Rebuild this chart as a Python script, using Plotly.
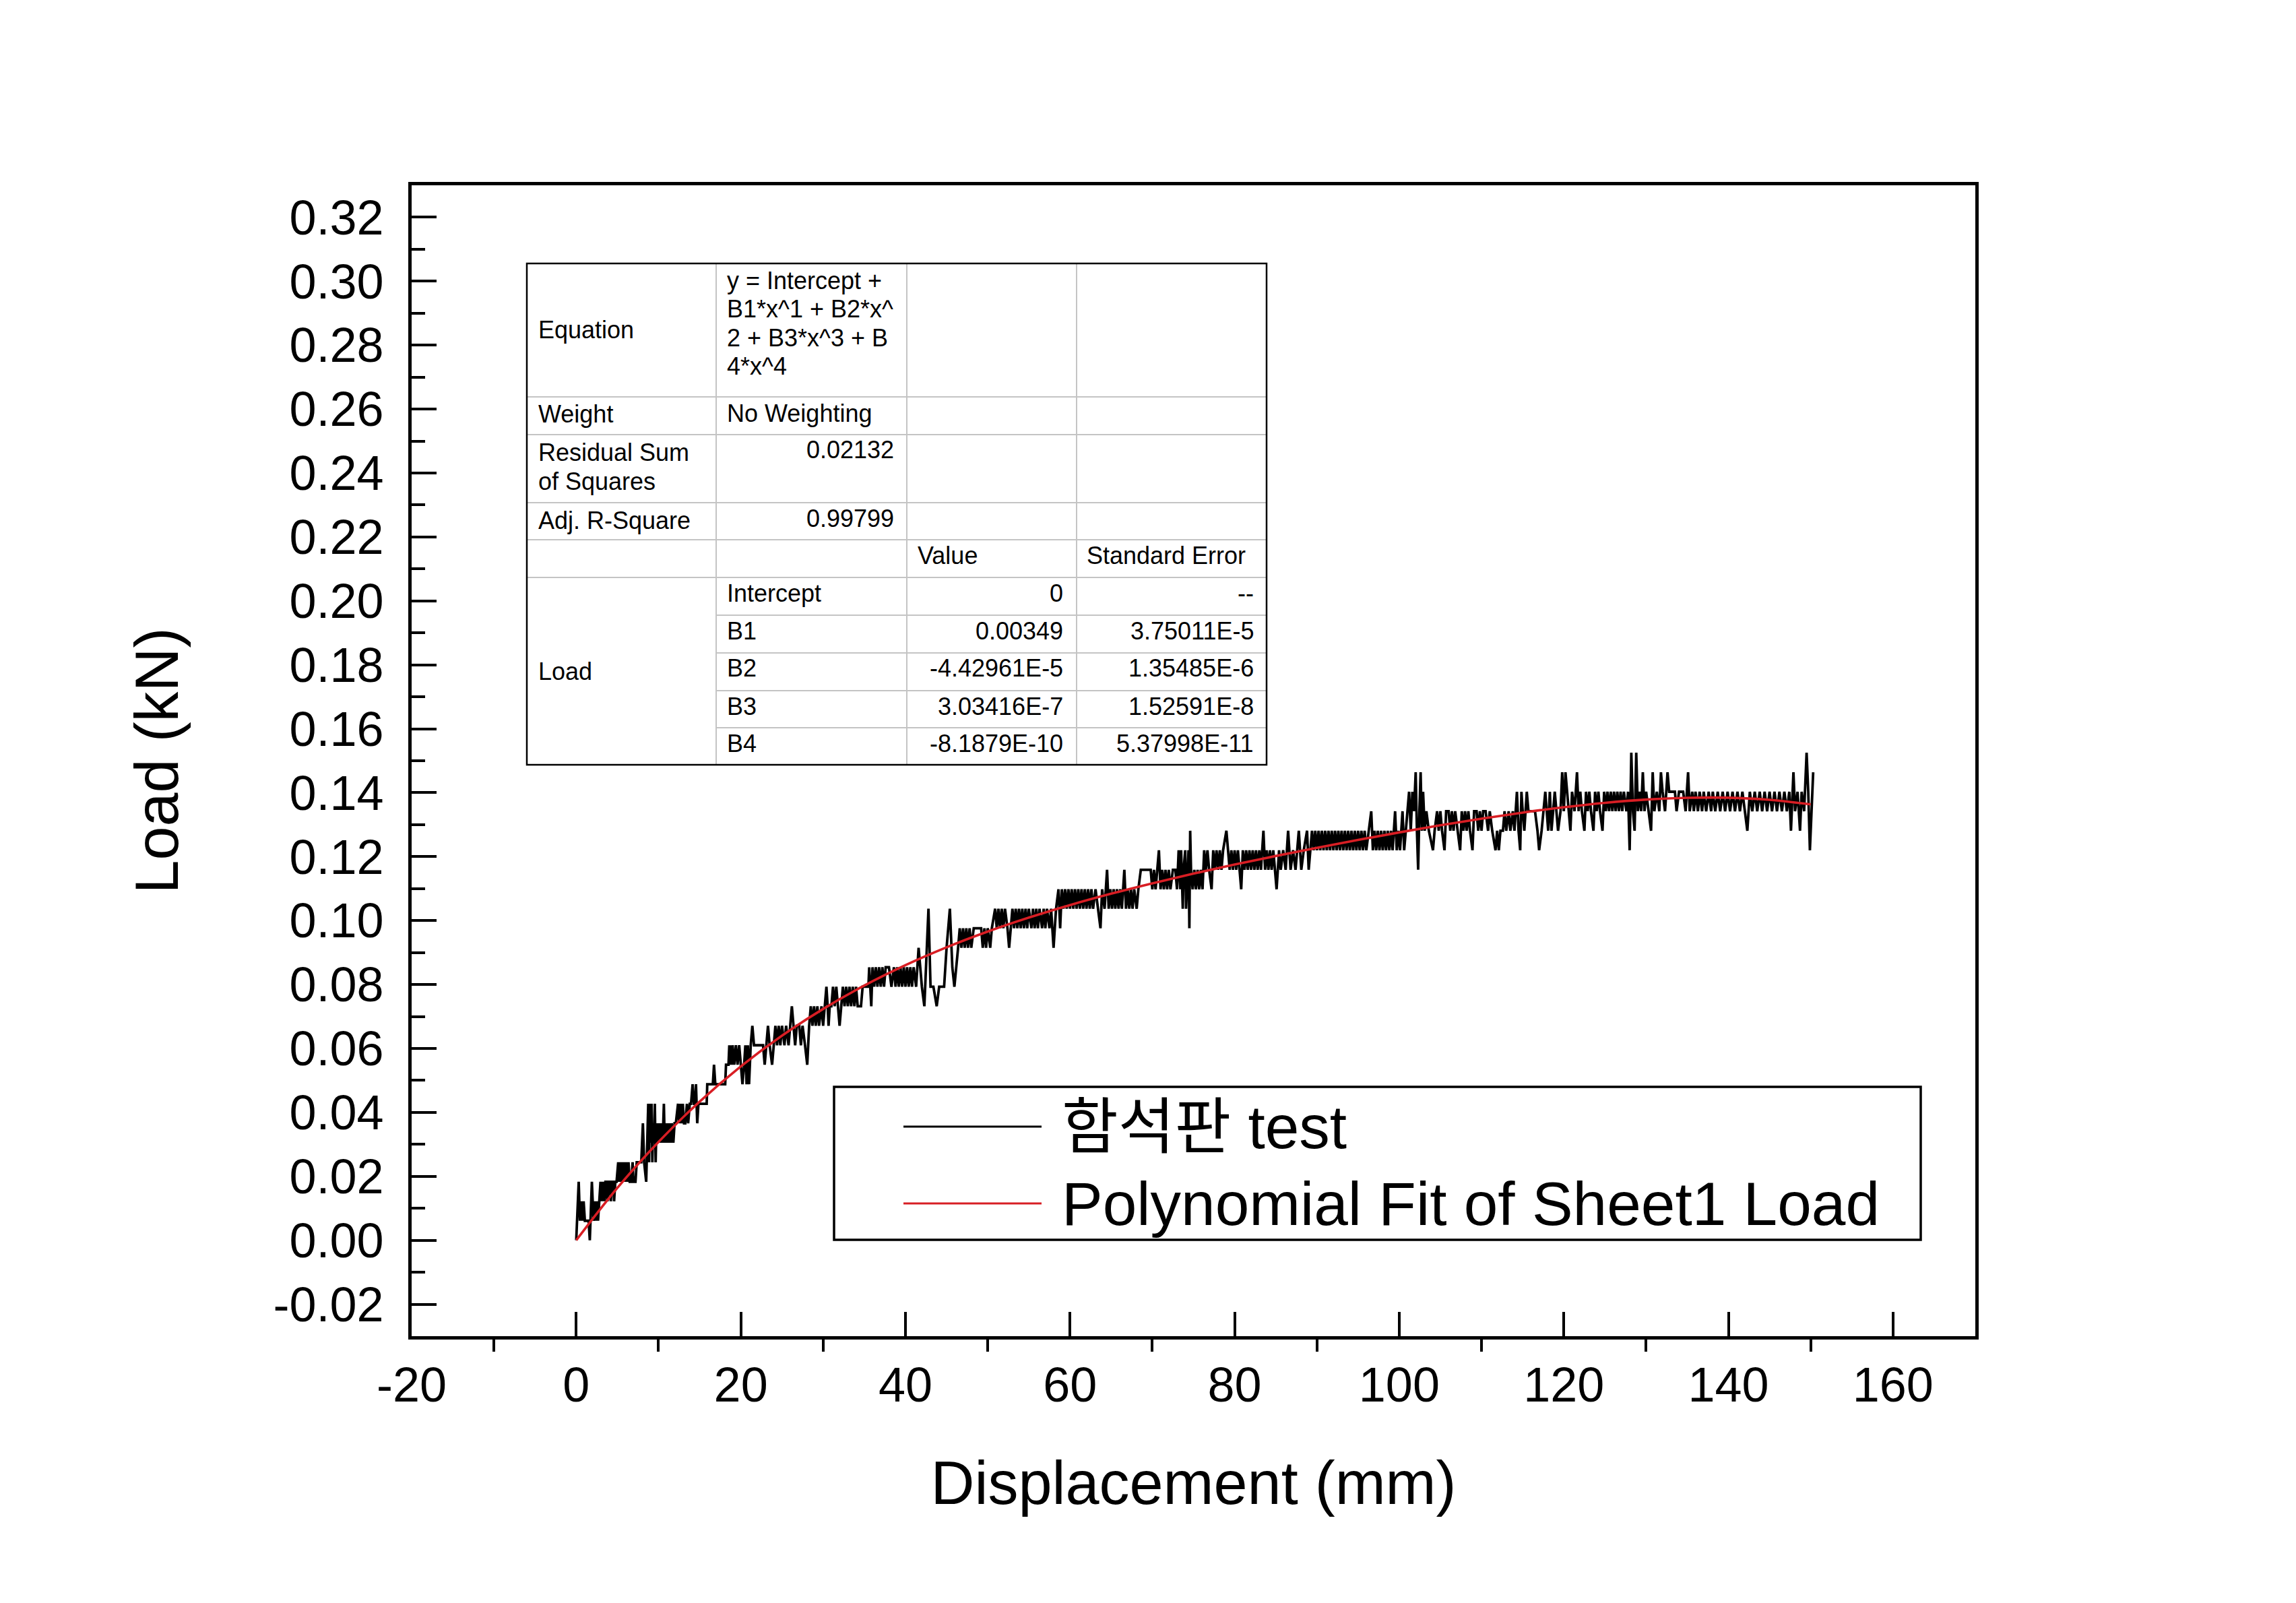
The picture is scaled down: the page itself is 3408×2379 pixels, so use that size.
import plotly.graph_objects as go

# ---------------- data ----------------
# measured test curve (displacement mm, load kN) - vertices read from the plot
test_seg_a = [(0.0,0.0),(0.3,0.0183),(0.45,0.0061),(0.6,0.0122),(0.75,0.0061),(0.9,0.0122),(1.05,0.0061),(1.5,0.0061),(1.65,0.0),(1.9,0.0183),(2.1,0.0061),(2.3,0.0122),(2.4,0.0061),(2.55,0.0122),(2.65,0.0061),(2.8,0.0122),(2.95,0.0183),(3.05,0.0122),(3.15,0.0183),(3.25,0.0122),(3.35,0.0183),(3.45,0.0122),(3.55,0.0183),(3.7,0.0183),(3.8,0.0122),(3.95,0.0183),(4.1,0.0183),(4.2,0.0122),(4.35,0.0183),(4.5,0.0183),(4.6,0.0122),(4.75,0.0183),(4.9,0.0183),(5.1,0.0244),(5.2,0.0183),(5.35,0.0244),(5.45,0.0183),(5.6,0.0244),(5.7,0.0183),(5.85,0.0244),(5.95,0.0183),(6.1,0.0244),(6.2,0.0183),(6.35,0.0244),(6.5,0.0183),(6.7,0.0183),(6.85,0.0244),(6.95,0.0183),(7.2,0.0183),(7.35,0.0244),(7.9,0.0244),(8.1,0.0366),(8.25,0.0244),(8.5,0.0183),(8.65,0.0305),(8.75,0.0427),(8.85,0.0244),(8.95,0.0427),(9.05,0.0305),(9.15,0.0427),(9.25,0.0244),(9.35,0.0366),(9.45,0.0305),(9.55,0.0427),(9.65,0.0244),(9.75,0.0366),(9.85,0.0305),(9.95,0.0366),(10.05,0.0305),(10.15,0.0366),(10.25,0.0305),(10.4,0.0366),(10.5,0.0305),(10.65,0.0427),(10.75,0.0305),(10.9,0.0366),(11.0,0.0305),(11.1,0.0366),(11.2,0.0305),(11.35,0.0366),(11.5,0.0305),(11.6,0.0366),(11.8,0.0305),(11.95,0.0366),(12.1,0.0366),(12.37,0.0427),(12.5,0.0366),(12.65,0.0427),(12.8,0.0366),(12.95,0.0427),(13.1,0.0366),(13.25,0.0366),(13.45,0.0427),(13.6,0.0366),(13.8,0.0427),(13.95,0.0427),(14.14,0.0488),(14.3,0.0427),(14.45,0.0427),(14.55,0.0488),(14.7,0.0366),(14.85,0.0427),(15.85,0.0427),(15.92,0.0488),(16.6,0.0488),(16.74,0.0549),(16.9,0.0488),(18.1,0.0488),(18.2,0.0549),(18.5,0.0549),(18.6,0.061),(18.7,0.0549),(18.8,0.061),(18.9,0.0549),(19.0,0.061),(19.2,0.0549),(19.4,0.061),(19.6,0.0549),(19.8,0.061),(20.0,0.0549),(20.2,0.0488),(20.4,0.0549),(20.55,0.061),(20.7,0.0488),(20.85,0.061),(21.0,0.0488),(21.2,0.061),(21.4,0.0671),(21.6,0.061),(22.7,0.061),(22.9,0.0549),(23.1,0.061),(23.3,0.0671),(23.5,0.061),(23.8,0.0549),(24.0,0.061),(24.2,0.0671),(24.4,0.061),(24.6,0.0671),(24.8,0.061),(25.0,0.0671),(25.3,0.061),(25.5,0.0671),(25.8,0.061),(26.0,0.0671),(26.2,0.0732),(26.4,0.0671),(26.6,0.061),(26.8,0.0671),(27.1,0.0671),(27.3,0.061),(27.5,0.0671),(27.8,0.061),(28.07,0.0549),(28.3,0.0671),(28.5,0.0732),(28.7,0.0671),(28.9,0.0732),(29.1,0.0671),(29.3,0.0732),(29.5,0.0671),(29.8,0.0732),(30.0,0.0671),(30.2,0.0732),(30.4,0.0793),(30.55,0.0732),(30.66,0.0671),(30.8,0.0732),(31.0,0.0732),(31.2,0.0793),(31.4,0.0732),(31.6,0.0793),(31.8,0.0732),(32.0,0.0671),(32.2,0.0732),(32.4,0.0793),(32.6,0.0732),(32.8,0.0793),(33.0,0.0732),(33.2,0.0793),(33.4,0.0732),(33.6,0.0793),(33.8,0.0732),(34.0,0.0793),(34.2,0.0732),(34.6,0.0732),(34.8,0.0793),(35.5,0.0793),(35.6,0.0854),(35.85,0.0732),(36.0,0.0854),(36.2,0.0793),(36.4,0.0854),(36.6,0.0793),(36.8,0.0854),(37.0,0.0793),(37.2,0.0854),(37.4,0.0793),(37.6,0.0854),(38.0,0.0854),(38.3,0.0793)]

test_seg_b = [(38.6,0.0854),(38.8,0.0793),(39.0,0.0854),(39.2,0.0793),(39.4,0.0854),(39.6,0.0793),(39.8,0.0854),(40.0,0.0793),(40.2,0.0854),(40.4,0.0793),(40.6,0.0854),(40.8,0.0793),(41.0,0.0854),(41.3,0.0793),(41.6,0.0915),(41.8,0.0854),(42.0,0.0793),(42.3,0.0732),(42.5,0.0854),(42.8,0.1037),(43.05,0.0793),(43.4,0.0793),(43.8,0.0732),(44.1,0.0793),(44.7,0.0793),(45.0,0.0915),(45.4,0.1037),(45.7,0.0854),(45.95,0.0793),(46.2,0.0854),(46.4,0.0915),(46.6,0.0976),(46.8,0.0915),(47.0,0.0976),(47.2,0.0915),(47.4,0.0976),(47.6,0.0915),(47.8,0.0976),(48.0,0.0915),(48.3,0.0976),(48.5,0.0976),(49.2,0.0976),(49.4,0.0915),(49.6,0.0976),(49.8,0.0915),(50.0,0.0976),(50.3,0.0915),(50.5,0.0976),(50.9,0.1037),(51.1,0.0976),(51.3,0.1037),(51.5,0.0976),(51.7,0.1037),(51.9,0.0976),(52.1,0.1037),(52.4,0.0976),(52.6,0.0915),(52.8,0.0976),(53.0,0.1037),(53.2,0.0976),(53.4,0.1037),(53.6,0.0976),(53.8,0.1037),(54.0,0.0976),(54.2,0.1037),(54.4,0.0976),(54.6,0.1037),(54.8,0.0976),(55.0,0.1037),(55.3,0.0976),(55.5,0.1037),(55.7,0.0976),(55.9,0.1037),(56.1,0.0976),(56.3,0.1037),(56.6,0.0976),(56.8,0.1037),(57.0,0.0976),(57.2,0.1037),(57.5,0.0976),(57.7,0.1037),(58.0,0.0915),(58.3,0.1037),(58.6,0.1098),(58.8,0.0976),(59.0,0.1098),(59.2,0.1037),(59.4,0.1098),(59.6,0.1037),(59.8,0.1098),(60.0,0.1037),(60.2,0.1098),(60.4,0.1037),(60.6,0.1098),(60.8,0.1037),(61.0,0.1098),(61.2,0.1037),(61.4,0.1098),(61.6,0.1037),(61.8,0.1098),(62.0,0.1037),(62.2,0.1098),(62.4,0.1037),(62.6,0.1098),(62.8,0.1037),(63.1,0.1098),(63.4,0.1037),(63.7,0.0976),(63.9,0.1098),(64.2,0.1037),(64.5,0.1159),(64.7,0.1037),(64.9,0.1098),(65.1,0.1037),(65.3,0.1098),(65.5,0.1037),(65.7,0.1098),(65.9,0.1037),(66.1,0.1098),(66.3,0.1037),(66.6,0.1159),(66.8,0.1037),(67.0,0.1098),(67.2,0.1037),(67.4,0.1098),(67.6,0.1037),(67.8,0.1098),(68.1,0.1037),(68.3,0.1098),(68.6,0.1159),(69.8,0.1159),(70.0,0.1098),(70.2,0.1159),(70.4,0.1098),(70.6,0.1159),(70.8,0.122),(71.0,0.1098),(71.2,0.1159),(71.4,0.1098),(71.6,0.1159),(71.8,0.1098),(72.0,0.1159),(72.2,0.1098),(72.5,0.1159),(72.8,0.1159),(73.0,0.1098),(73.2,0.122),(73.4,0.1098),(73.5,0.122),(73.7,0.1037),(73.8,0.1159),(74.0,0.122),(74.1,0.1037),(74.25,0.1159),(74.4,0.122),(74.5,0.0976),(74.6,0.1281),(74.7,0.1159),(74.9,0.1098),(75.1,0.1159),(75.3,0.1098),(75.5,0.1159),(75.7,0.1098)]

test_seg_c = [(75.9,0.1159),(76.1,0.1098),(76.3,0.122),(76.5,0.1159),(76.7,0.122),(76.9,0.1159),(77.2,0.1098),(77.4,0.122),(77.6,0.1159),(77.8,0.122),(78.0,0.1159),(78.2,0.122),(78.4,0.1159),(78.6,0.122),(79.0,0.1281),(79.2,0.122),(79.4,0.1159),(79.6,0.122),(79.8,0.1159),(80.0,0.122),(80.2,0.1159),(80.4,0.122),(80.8,0.1098),(81.0,0.122),(81.2,0.1159),(81.4,0.122),(81.6,0.1159),(81.8,0.122),(82.0,0.1159),(82.2,0.122),(82.4,0.1159),(82.6,0.122),(82.8,0.1159),(83.0,0.122),(83.2,0.1159),(83.5,0.1281),(83.7,0.1159),(83.9,0.122),(84.1,0.1159),(84.3,0.122),(84.5,0.1159),(84.7,0.122),(85.1,0.1098),(85.4,0.122),(85.6,0.1159),(85.9,0.122),(86.2,0.1159),(86.5,0.1281),(86.8,0.1159),(87.1,0.122),(87.4,0.1159),(87.8,0.1281),(88.1,0.1159),(88.4,0.122),(88.8,0.1281),(89.0,0.1159),(89.4,0.1281),(89.6,0.122),(89.8,0.1281),(90.0,0.122),(90.2,0.1281),(90.4,0.122),(90.6,0.1281),(90.8,0.122),(91.0,0.1281),(91.2,0.122),(91.4,0.1281),(91.6,0.122),(91.8,0.1281),(92.0,0.122),(92.2,0.1281),(92.4,0.122),(92.6,0.1281),(92.8,0.122),(93.0,0.1281),(93.2,0.122),(93.4,0.1281),(93.6,0.122),(93.8,0.1281),(94.0,0.122),(94.2,0.1281),(94.4,0.122),(94.6,0.1281),(94.8,0.122),(95.0,0.1281),(95.2,0.122),(95.4,0.1281),(95.6,0.122),(95.8,0.1281),(96.0,0.122),(96.3,0.1281),(96.6,0.1342),(96.8,0.122),(97.0,0.1281),(97.2,0.122),(97.4,0.1281),(97.6,0.122),(97.8,0.1281),(98.0,0.122),(98.2,0.1281),(98.4,0.122),(98.6,0.1281),(98.8,0.122),(99.0,0.1281),(99.2,0.122),(99.5,0.1342),(99.7,0.122),(99.9,0.1281),(100.1,0.122),(100.4,0.1342),(100.6,0.122),(100.8,0.1281),(101.0,0.1342),(101.2,0.1403),(101.4,0.1281),(101.6,0.1403),(101.8,0.1342),(102.0,0.1464),(102.15,0.1281),(102.3,0.1159),(102.45,0.1342),(102.6,0.1464),(102.75,0.1281),(102.9,0.1403),(103.1,0.1281),(103.3,0.1342),(103.6,0.1281),(104.1,0.122),(104.3,0.1281),(104.6,0.1342),(104.8,0.1281),(105.0,0.1342),(105.2,0.1281),(105.5,0.122),(105.7,0.1342),(106.0,0.1342),(106.2,0.1281),(106.4,0.1342),(106.6,0.1281),(106.8,0.1342),(107.1,0.1281),(107.4,0.122),(107.6,0.1342),(107.8,0.1281),(108.0,0.1342),(108.2,0.1281),(108.4,0.1342),(108.6,0.1281),(108.9,0.122),(109.1,0.1342),(109.4,0.1342),(109.6,0.1281),(109.8,0.1342),(110.0,0.1281),(110.2,0.1342),(110.5,0.1342),(110.8,0.1281),(111.0,0.1342),(111.3,0.1281),(111.7,0.122),(111.9,0.1281)]

test_seg_d = [(112.1,0.122),(112.3,0.1281),(112.6,0.1281),(112.8,0.1342),(113.0,0.1281),(113.3,0.1342),(113.5,0.1281),(113.8,0.1342),(114.0,0.1281),(114.3,0.1403),(114.5,0.1281),(114.7,0.122),(114.85,0.1403),(115.0,0.1342),(115.2,0.1281),(115.5,0.1403),(115.7,0.1342),(116.5,0.1342),(116.8,0.1281),(117.0,0.122),(117.3,0.1281),(117.75,0.1403),(117.9,0.1342),(118.1,0.1281),(118.3,0.1403),(118.5,0.1281),(118.7,0.1342),(118.9,0.1403),(119.1,0.1342),(119.3,0.1281),(119.6,0.1342),(119.8,0.1464),(120.0,0.1342),(120.2,0.1464),(120.4,0.1403),(120.6,0.1342),(120.8,0.1281),(121.0,0.1403),(121.3,0.1342),(121.6,0.1464),(121.8,0.1342),(122.0,0.1403),(122.2,0.1342),(122.5,0.1281),(122.7,0.1403),(122.9,0.1342),(123.1,0.1403),(123.3,0.1342),(123.6,0.1281),(123.8,0.1403),(124.0,0.1342),(124.2,0.1403),(124.4,0.1342),(124.7,0.1281),(124.9,0.1403),(125.1,0.1342),(125.3,0.1403),(125.5,0.1342),(125.7,0.1403),(125.9,0.1342),(126.1,0.1403),(126.3,0.1342),(126.5,0.1403),(126.7,0.1342),(126.9,0.1403),(127.1,0.1342),(127.3,0.1403),(127.6,0.1342),(127.8,0.1403),(128.0,0.122),(128.2,0.1525),(128.4,0.1342),(128.6,0.1281),(128.8,0.1525),(129.0,0.1342),(129.2,0.1403),(129.4,0.1342),(129.6,0.1464),(129.8,0.1342),(130.0,0.1403),(130.3,0.1342),(130.6,0.1281),(130.8,0.1464),(131.0,0.1342),(131.3,0.1403),(131.6,0.1342),(131.8,0.1464),(132.0,0.1403),(132.3,0.1342),(132.6,0.1464),(132.8,0.1403),(133.5,0.1403),(133.7,0.1342),(134.0,0.1403),(134.5,0.1403),(134.8,0.1342),(135.1,0.1464),(135.3,0.1342),(135.6,0.1403),(135.8,0.1342),(136.0,0.1403),(136.3,0.1342),(136.5,0.1403),(136.8,0.1342),(137.0,0.1403),(137.3,0.1342),(137.6,0.1403),(137.9,0.1342),(138.1,0.1403),(138.4,0.1342),(138.7,0.1403),(139.0,0.1342),(139.3,0.1403),(139.6,0.1342),(139.9,0.1403),(140.2,0.1342),(140.5,0.1403),(140.8,0.1342),(141.1,0.1403),(141.4,0.1342),(141.7,0.1403),(142.0,0.1342),(142.3,0.1281),(142.6,0.1403),(142.9,0.1342),(143.2,0.1403),(143.5,0.1342),(143.8,0.1403),(144.1,0.1342),(144.4,0.1403),(144.7,0.1342),(145.0,0.1403),(145.3,0.1342),(145.6,0.1403),(145.9,0.1342),(146.2,0.1403),(146.5,0.1342),(146.8,0.1403),(147.1,0.1342),(147.4,0.1403),(147.6,0.1281),(147.9,0.1464),(148.1,0.1342),(148.4,0.1403),(148.7,0.1281),(148.9,0.1403),(149.2,0.1342),(149.5,0.1525),(149.7,0.1403),(149.9,0.122),(150.1,0.1342),(150.3,0.1464)]

# polynomial fit curve values
fit_disp = [0, 5, 10, 15, 20, 25, 30, 35, 40, 45, 50, 55, 60, 65, 70, 75, 80, 85, 90, 95,
            100, 105, 110, 115, 120, 125, 130, 135, 140, 145, 150]
fit_load = [0.0, 0.01638, 0.03077, 0.04337, 0.05438, 0.06399, 0.07236, 0.07967, 0.08605, 0.09164,
            0.09657, 0.10094, 0.10486, 0.10841, 0.11166, 0.11468, 0.11752, 0.12020, 0.12277, 0.12523,
            0.12758, 0.12980, 0.13188, 0.13378, 0.13545, 0.13683, 0.13785, 0.13841, 0.13843, 0.13778, 0.13635]

# axis ticks
x_tickvals = [-20, 0, 20, 40, 60, 80, 100, 120, 140, 160]
x_ticktext = ["-20", "0", "20", "40", "60", "80", "100", "120", "140", "160"]
y_tickvals = [-0.02, 0.0, 0.02, 0.04, 0.06, 0.08, 0.10, 0.12, 0.14, 0.16, 0.18, 0.20, 0.22, 0.24, 0.26, 0.28, 0.30, 0.32]
y_ticktext = ["-0.02", "0.00", "0.02", "0.04", "0.06", "0.08", "0.10", "0.12", "0.14", "0.16",
              "0.18", "0.20", "0.22", "0.24", "0.26", "0.28", "0.30", "0.32"]

# legend labels
series_names = ["함석판 test", "Polynomial Fit of Sheet1 Load"]

# fit-report table contents
row_labels = ["Equation", "Weight", ["Residual Sum", "of Squares"], "Adj. R-Square"]
equation_lines = ["y = Intercept +", "B1*x^1 + B2*x^", "2 + B3*x^3 + B", "4*x^4"]
weight_text = "No Weighting"
rss_text = "0.02132"
adj_r2_text = "0.99799"
header_value = "Value"
header_error = "Standard Error"
group_label = "Load"
param_names = ["Intercept", "B1", "B2", "B3", "B4"]
param_values = ["0", "0.00349", "-4.42961E-5", "3.03416E-7", "-8.1879E-10"]
param_errors = ["--", "3.75011E-5", "1.35485E-6", "1.52591E-8", "5.37998E-11"]

# ---------------- figure ----------------
W, H = 3408, 2379
L, R, T, B = 611, 2932, 275, 1983
FONT = "Liberation Sans, Arial, sans-serif"
LEG_FONT = "Liberation Sans, Arial, Noto Sans CJK KR, sans-serif"
RED = "#d81e24"


def px(x):
    return (x - L) / (R - L)


def py(y):
    return (B - y) / (B - T)


test_pts = test_seg_a + test_seg_b + test_seg_c + test_seg_d
disp = [p[0] for p in test_pts]
load = [p[1] for p in test_pts]

fig = go.Figure()
fig.add_trace(go.Scatter(x=disp, y=load, mode="lines", name=series_names[0],
                         line=dict(color="black", width=3.8), showlegend=False))
fig.add_trace(go.Scatter(x=fit_disp, y=fit_load, mode="lines", name=series_names[1],
                         line=dict(color=RED, width=3.6, shape="spline"), showlegend=False))

axis_common = dict(showline=True, linecolor="black", linewidth=5, mirror=True,
                   showgrid=False, zeroline=False,
                   tickfont=dict(family=FONT, size=72, color="black"),
                   ticks="inside", tickwidth=4, tickcolor="black", tickmode="array")

fig.update_xaxes(range=[-20, 170], tickvals=x_tickvals, ticktext=x_ticktext, ticklen=36,
                 ticklabelstandoff=6,
                 minor=dict(ticks="outside", ticklen=18, tickwidth=4, tickcolor="black",
                            tickmode="linear", tick0=-10, dtick=20),
                 title=dict(text="Displacement (mm)", font=dict(family=FONT, size=90, color="black"),
                            standoff=76),
                 **axis_common)
fig.update_yaxes(range=[-0.03, 0.33], tickvals=y_tickvals, ticktext=y_ticktext, ticklen=37,
                 ticklabelstandoff=22,
                 minor=dict(ticks="inside", ticklen=20, tickwidth=4, tickcolor="black",
                            tickmode="linear", tick0=-0.03, dtick=0.02),
                 title=dict(text="Load (kN)", font=dict(family=FONT, size=90, color="black"),
                            standoff=112),
                 **axis_common)

shapes = []
annots = []

# ---- table ----
COLS = [782, 1063, 1346, 1598, 1880]
ROWS = [391, 589, 645, 746, 801, 857, 913, 969, 1025, 1080, 1135]
GRID = "#c4c4c4"


def hline(y, x0, x1, color=GRID, w=2):
    shapes.append(dict(type="line", xref="paper", yref="paper", x0=px(x0), x1=px(x1),
                       y0=py(y), y1=py(y), line=dict(color=color, width=w)))


def vline(x, y0, y1, color=GRID, w=2):
    shapes.append(dict(type="line", xref="paper", yref="paper", x0=px(x), x1=px(x),
                       y0=py(y0), y1=py(y1), line=dict(color=color, width=w)))


for r in ROWS[1:6]:
    hline(r, COLS[0], COLS[4])
for r in ROWS[6:10]:
    hline(r, COLS[1], COLS[4])
for c in COLS[1:4]:
    vline(c, ROWS[0], ROWS[-1])
shapes.append(dict(type="rect", xref="paper", yref="paper", x0=px(COLS[0]), x1=px(COLS[4]),
                   y0=py(ROWS[0]), y1=py(ROWS[-1]), line=dict(color="black", width=2.5)))

TFS = 36


def text(x, y, s, anchor="left", size=TFS, family=FONT):
    annots.append(dict(xref="paper", yref="paper", x=px(x), y=py(y), text=s, showarrow=False,
                       xanchor=anchor, yanchor="middle",
                       font=dict(family=family, size=size, color="black")))


LX = COLS[0] + 15
C1L = COLS[1] + 14
C1R = COLS[2] - 17
C2L = COLS[2] + 14
C2R = COLS[3] - 18
C3L = COLS[3] + 13
C3R = COLS[4] - 17

text(LX, (ROWS[0] + ROWS[1]) / 2, row_labels[0])
for i, ln in enumerate(equation_lines):
    text(C1L, ROWS[0] + 25 + 42.5 * i, ln)
text(LX, ROWS[1] + 25, row_labels[1])
text(C1L, ROWS[1] + 24, weight_text)
text(LX, ROWS[2] + 26, row_labels[2][0])
text(LX, ROWS[2] + 69, row_labels[2][1])
text(C1R, ROWS[2] + 22, rss_text, anchor="right")
text(LX, ROWS[3] + 26, row_labels[3])
text(C1R, ROWS[3] + 23, adj_r2_text, anchor="right")
text(C2L, ROWS[4] + 23, header_value)
text(C3L, ROWS[4] + 23, header_error)
text(LX, (ROWS[5] + ROWS[10]) / 2, group_label)
for i in range(5):
    yy = ROWS[5 + i] + 23
    text(C1L, yy, param_names[i])
    text(C2R, yy, param_values[i], anchor="right")
    text(C3R, yy, param_errors[i], anchor="right")

# ---- legend (drawn like the Origin legend box) ----
shapes.append(dict(type="rect", xref="paper", yref="paper", x0=px(1238), x1=px(2851),
                   y0=py(1613), y1=py(1840), line=dict(color="black", width=3.5),
                   fillcolor="white", layer="below"))
leg_rows = [1672, 1786]
leg_colors = ["black", RED]
for yy, col, name in zip(leg_rows, leg_colors, series_names):
    shapes.append(dict(type="line", xref="paper", yref="paper", x0=px(1341), x1=px(1546),
                       y0=py(yy), y1=py(yy), line=dict(color=col, width=3)))
    text(1574, yy, name, size=91, family=LEG_FONT)

fig.update_layout(width=W, height=H, margin=dict(l=L, r=W - R, t=T, b=H - B, autoexpand=False),
                  paper_bgcolor="white", plot_bgcolor="white",
                  shapes=shapes, annotations=annots, showlegend=False,
                  font=dict(family=FONT, color="black"))

fig.write_html("out.html", config={"displayModeBar": False},
               post_script="document.body.style.margin='0';document.body.style.overflow='hidden';")
